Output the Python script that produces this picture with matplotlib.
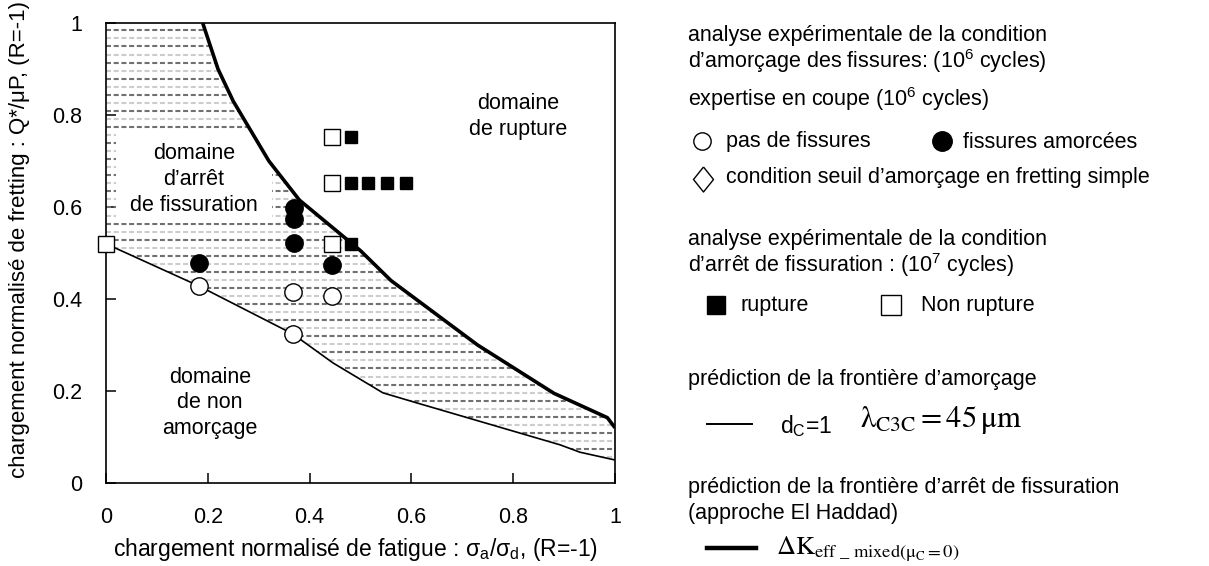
import matplotlib
matplotlib.use("Agg")
import matplotlib.pyplot as plt
from matplotlib.patches import Polygon, Rectangle
import numpy as np

plt.rcParams['font.family'] = ['Liberation Sans', 'DejaVu Sans']
plt.rcParams['mathtext.fontset'] = 'custom'
plt.rcParams['mathtext.rm'] = 'Liberation Sans'
plt.rcParams['mathtext.it'] = 'Liberation Sans:italic'
plt.rcParams['mathtext.bf'] = 'Liberation Sans:bold'

# frontière d'arrêt de fissuration (El Haddad) - trait épais
arret_x = [0.19, 0.22, 0.25, 0.32, 0.38, 0.50, 0.56, 0.73, 0.88, 0.985, 1.0]
arret_y = [1.0, 0.90, 0.83, 0.70, 0.615, 0.505, 0.44, 0.30, 0.195, 0.142, 0.12]

# frontière d'amorçage (dC=1) - trait fin
amorc_x = [0.0, 0.183, 0.367, 0.446, 0.544, 0.611, 0.892, 0.931, 1.0]
amorc_y = [0.52, 0.428, 0.324, 0.261, 0.196, 0.174, 0.083, 0.067, 0.05]

# expertise en coupe
pas_fiss_x = [0.183, 0.367, 0.444, 0.367]
pas_fiss_y = [0.428, 0.415, 0.406, 0.324]
fiss_x = [0.183, 0.444, 0.369, 0.369, 0.369]
fiss_y = [0.478, 0.474, 0.521, 0.575, 0.597]

# arrêt de fissuration 10^7 cycles
non_rupt_x = [0.0, 0.444, 0.444, 0.444]
non_rupt_y = [0.52, 0.52, 0.652, 0.752]
rupt_x = [0.481, 0.481, 0.515, 0.552, 0.589, 0.481]
rupt_y = [0.752, 0.652, 0.652, 0.652, 0.652, 0.52]

W, H = 1209, 566
fig = plt.figure(figsize=(W / 100, H / 100), dpi=100)
ax = fig.add_axes([106 / W, 83 / H, 509 / W, 460 / H])
ax.set_xlim(0, 1)
ax.set_ylim(0, 1)

# zone hachurée entre les deux frontières
poly_pts = [(0, 1)] + list(zip(arret_x, arret_y)) + list(zip(amorc_x[::-1], amorc_y[::-1]))
zone = Polygon(poly_pts, closed=True, facecolor='white', edgecolor='none', zorder=1)
ax.add_patch(zone)
yy = np.arange(0.004, 1.0, 0.0175)
for i, yv in enumerate(yy):
    col = '#707070' if i % 2 == 0 else '#cccccc'
    ln, = ax.plot([0, 1], [yv, yv], color=col, lw=1.5, dashes=(2.4, 1.3), zorder=2)
    ln.set_clip_path(zone)

# cadre blanc du texte
ax.add_patch(Rectangle((0.02, 0.565), 0.306, 0.202, facecolor='white', edgecolor='none', zorder=3))

ax.plot(amorc_x, amorc_y, color='black', lw=1.2, zorder=4)
ax.plot(arret_x, arret_y, color='black', lw=2.6, zorder=4, solid_capstyle='butt')

ax.plot(pas_fiss_x, pas_fiss_y, 'o', ms=12.5, mfc='white', mec='black', mew=1.0, zorder=5, clip_on=False)
ax.plot(fiss_x, fiss_y, 'o', ms=12.5, mfc='black', mec='black', zorder=5, clip_on=False)
ax.plot(non_rupt_x, non_rupt_y, 's', ms=12, mfc='white', mec='black', mew=1.0, zorder=5, clip_on=False)
ax.plot(rupt_x, rupt_y, 's', ms=9, mfc='black', mec='black', zorder=6, clip_on=False)

fs = 15.5
ax.text(0.173, 0.659, "domaine\nd’arrêt\nde fissuration", ha='center', va='center', fontsize=fs,
        linespacing=1.32, zorder=6)
ax.text(0.81, 0.796, "domaine\nde rupture", ha='center', va='center', fontsize=fs, linespacing=1.3)
ax.text(0.204, 0.174, "domaine\nde non\namorçage", ha='center', va='center', fontsize=fs, linespacing=1.3)

ax.set_xticks([0, 0.2, 0.4, 0.6, 0.8, 1])
ax.set_yticks([0, 0.2, 0.4, 0.6, 0.8, 1])
ax.set_xticklabels(['0', '0.2', '0.4', '0.6', '0.8', '1'])
ax.set_yticklabels(['0', '0.2', '0.4', '0.6', '0.8', '1'])
ax.tick_params(direction='in', length=7, width=1.1, labelsize=fs)
ax.tick_params(axis='x', pad=17)
ax.tick_params(axis='y', pad=17)
for sp in ax.spines.values():
    sp.set_linewidth(1.2)
ax.set_xlabel(r"chargement normalisé de fatigue : $\mathrm{\sigma_a/\sigma_d}$, (R=-1)", fontsize=16.5)
ax.xaxis.set_label_coords(0.49, -0.115)
ax.set_ylabel("chargement normalisé de fretting : Q*/μP, (R=-1)", fontsize=16)
ax.yaxis.set_label_coords(-0.15, 0.53)

# légende à droite, en coordonnées pixel
lg = fig.add_axes([0, 0, 1, 1])
lg.set_xlim(0, W)
lg.set_ylim(H, 0)
lg.axis('off')
lg.patch.set_alpha(0)

x0 = 688
def txt(x, y, s, **kw):
    lg.text(x, y, s, fontsize=kw.pop('fontsize', fs), va='center', ha='left', **kw)

losange = [(0, 1), (0.8, 0), (0, -1), (-0.8, 0), (0, 1)]

txt(x0, 36, "analyse expérimentale de la condition")
txt(x0, 61, r"d’amorçage des fissures: ($\mathrm{10^6}$ cycles)")
txt(x0, 99, r"expertise en coupe ($\mathrm{10^6}$ cycles)")
lg.plot([702], [141], 'o', ms=12.5, mfc='white', mec='black', mew=1.0)
txt(726, 141, "pas de fissures")
lg.plot([942], [141], 'o', ms=14, mfc='black', mec='black')
txt(963, 142, "fissures amorcées")
lg.plot([703], [179], marker=losange, ms=18, mfc='white', mec='black', mew=1.0, ls='none')
txt(726, 177, "condition seuil d’amorçage en fretting simple")

txt(x0, 239, "analyse expérimentale de la condition")
txt(x0, 265, r"d’arrêt de fissuration : ($\mathrm{10^7}$ cycles)")
lg.plot([716], [305], 's', ms=13, mfc='black', mec='black')
txt(741, 305, "rupture")
lg.plot([891], [305], 's', ms=15, mfc='white', mec='black', mew=1.0)
txt(921, 305, "Non rupture")

txt(x0, 380, "prédiction de la frontière d’amorçage")
lg.plot([707, 752], [424, 424], color='black', lw=1.4)
txt(780, 426, r"$\mathrm{d_C}$=1", fontsize=16.5)
txt(860, 420, r"$\mathrm{\lambda}_{\mathrm{C3C}} = 45\,\mathrm{\mu m}$", fontsize=22, math_fontfamily='stix')

txt(x0, 487, "prédiction de la frontière d’arrêt de fissuration")
txt(x0, 514, "(approche El Haddad)")
lg.plot([707, 756], [548, 548], color='black', lw=3.2)
txt(776, 549, r"$\Delta\mathrm{K}_{\mathrm{eff\ \_\ mixed}(\mathrm{\mu}_\mathrm{C}=0)}$", fontsize=19, math_fontfamily='stix')

fig.savefig("out.png", dpi=100)
